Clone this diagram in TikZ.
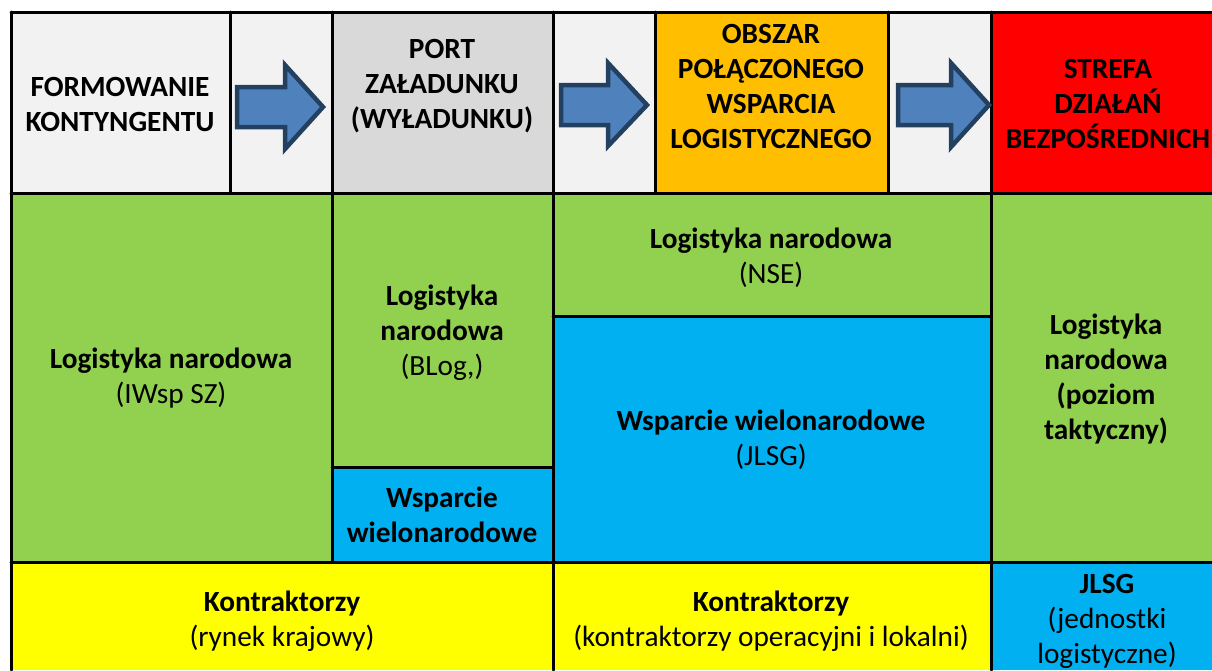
\documentclass[tikz,border=0pt]{standalone}
\usepackage{fontspec}
\setmainfont{Carlito}
\definecolor{f2f2f2}{rgb}{0.95,0.95,0.95}
\definecolor{d9d9d9}{rgb}{0.85,0.85,0.85}
\definecolor{ffcqqq}{rgb}{1,0.75,0}
\definecolor{ffqqqq}{rgb}{1,0,0}
\definecolor{92d05q}{rgb}{0.57,0.82,0.31}
\definecolor{qqbqfq}{rgb}{0,0.69,0.94}
\definecolor{ffffqq}{rgb}{1,1,0}
\definecolor{4f81bd}{rgb}{0.31,0.51,0.74}
\definecolor{243f6q}{rgb}{0.14,0.25,0.38}
\begin{document}
\begin{tikzpicture}[line cap=round,line join=round,x=1pt,y=-1pt,
	txt/.style={align=center,font=\fontsize{29.3}{35}\selectfont},
	kop/.style={align=center,font=\fontsize{29.3}{35}\selectfont\bfseries},
	pfeil/.style={draw=243f6q,fill=4f81bd,line width=4.5pt,line join=miter},
	rand/.style={black,line width=3pt}]
	\useasboundingbox (0,0) rectangle (1212,670);
	\clip (0,0) rectangle (1212,670);
	% header row
	\fill[color=f2f2f2] (11,12) rectangle (332,193);
	\fill[color=d9d9d9] (332,12) rectangle (553,193);
	\fill[color=f2f2f2] (553,12) rectangle (655,193);
	\fill[color=ffcqqq] (655,12) rectangle (888,193);
	\fill[color=f2f2f2] (888,12) rectangle (991,193);
	\fill[color=ffqqqq] (991,12) rectangle (1212,193);
	% middle part
	\fill[color=92d05q] (11,193) rectangle (553,467);
	\fill[color=92d05q] (11,467) rectangle (332,562);
	\fill[color=qqbqfq] (332,467) rectangle (553,562);
	\fill[color=92d05q] (553,193) rectangle (991,316);
	\fill[color=qqbqfq] (553,316) rectangle (991,562);
	\fill[color=92d05q] (991,193) rectangle (1212,562);
	% bottom row
	\fill[color=ffffqq] (11,562) rectangle (991,670);
	\fill[color=qqbqfq] (991,562) rectangle (1212,670);
	% grid lines
	\draw[rand] (11,12)-- (1212,12);
	\draw[rand] (11,193)-- (1212,193);
	\draw[rand] (11,562)-- (1212,562);
	\draw[rand] (11,12)-- (11,670);
	\draw[rand] (230,12)-- (230,193);
	\draw[rand] (332,12)-- (332,562);
	\draw[rand] (553,12)-- (553,670);
	\draw[rand] (655,12)-- (655,193);
	\draw[rand] (888,12)-- (888,193);
	\draw[rand] (991,12)-- (991,670);
	\draw[rand] (332,467)-- (553,467);
	\draw[rand] (553,316)-- (991,316);
	% arrows
	\draw[pfeil] (237,87) -- (285,87) -- (285,65) -- (323,107) -- (285,149) -- (285,127) -- (237,127) -- cycle;
	\draw[pfeil] (561,85) -- (608,85) -- (608,63) -- (647,105) -- (608,146) -- (608,125) -- (561,125) -- cycle;
	\draw[pfeil] (898,85) -- (951,85) -- (951,63) -- (989,105) -- (951,147) -- (951,125) -- (898,125) -- cycle;
	% texts
	\node[kop] (formowanie) at (120,104) {FORMOWANIE\\KONTYNGENTU};
	\node[kop] (port) at (442,86) {PORT\\ZAŁADUNKU\\(WYŁADUNKU)};
	\node[kop] (obszar) at (771,86) {OBSZAR\\POŁĄCZONEGO\\WSPARCIA\\LOGISTYCZNEGO};
	\node[kop] (strefa) at (1108,104) {STREFA\\DZIAŁAŃ\\BEZPOŚREDNICH};
	\node[txt] (iwsp) at (171,378) {\textbf{Logistyka narodowa}\\(IWsp SZ)};
	\node[txt] (blog) at (442,333) {\textbf{Logistyka}\\\textbf{narodowa}\\(BLog,)};
	\node[kop] (wielo) at (442,515) {Wsparcie\\wielonarodowe};
	\node[txt] (nse) at (771,258) {\textbf{Logistyka narodowa}\\(NSE)};
	\node[txt] (jlsg) at (771,440) {\textbf{Wsparcie wielonarodowe}\\(JLSG)};
	\node[kop] (taktyczny) at (1106,379) {Logistyka\\narodowa\\(poziom\\taktyczny)};
	\node[txt] (krajowy) at (282,621) {\textbf{Kontraktorzy}\\(rynek krajowy)};
	\node[txt] (lokalni) at (771,621) {\textbf{Kontraktorzy}\\(kontraktorzy operacyjni i lokalni)};
	\node[txt] (jednostki) at (1107,621) {\textbf{JLSG}\\(jednostki\\logistyczne)};
\end{tikzpicture}
\end{document}
